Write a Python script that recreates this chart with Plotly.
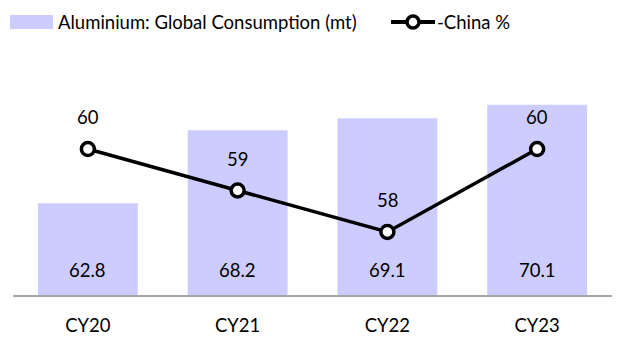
import plotly.graph_objects as go

# Aluminium consumption (million tonnes) and China's share (%)
years = ["CY20", "CY21", "CY22", "CY23"]
consumption = [62.8, 68.2, 69.1, 70.1]
china_share = [60, 59, 58, 60]

BAR_COLOR = "#CCCCFF"
FONT = "Lato"
FS = 18.5
TXT = "#000000"

fig = go.Figure()

fig.add_trace(go.Bar(
    x=years, y=consumption, base=0,
    marker=dict(color=BAR_COLOR, line=dict(width=0)),
    name="Aluminium: Global Consumption (mt)",
    showlegend=False,
))

fig.add_trace(go.Scatter(
    x=years, y=china_share, yaxis="y2",
    mode="lines+markers",
    line=dict(color="#000000", width=3.5),
    marker=dict(symbol="circle", size=13, color="white",
                line=dict(color="#000000", width=3.5)),
    name="-China %",
    showlegend=False,
))

annotations = []
# bar values, placed near the bar foot
for x, v in zip(years, consumption):
    annotations.append(dict(
        x=x, y=56, xref="x", yref="y", text=f"{v:.1f}", showarrow=False,
        yanchor="middle", yshift=25, font=dict(family=FONT, size=FS, color=TXT)))
# share values above each marker
for x, v in zip(years, china_share):
    annotations.append(dict(
        x=x, y=v, xref="x", yref="y2", text=f"{v:.0f}", showarrow=False,
        yanchor="middle", yshift=32, font=dict(family=FONT, size=FS, color=TXT)))

# legend drawn at the top
annotations.append(dict(
    x=56, y=22, xref="paper", yref="paper", text="Aluminium: Global Consumption (mt)",
    showarrow=False, xanchor="left", yanchor="middle",
    font=dict(family=FONT, size=FS, color=TXT)))
annotations.append(dict(
    x=435, y=22, xref="paper", yref="paper", text="-China %",
    showarrow=False, xanchor="left", yanchor="middle",
    font=dict(family=FONT, size=FS, color=TXT)))

W, H = 629, 340
ML, MR, MT, MB = 13, 17, 52, 45
pw, ph = W - ML - MR, H - MT - MB


def px(xp):
    return (xp - ML) / pw


def py(yp):
    return (H - MB - yp) / ph


for a in annotations:
    if a["xref"] == "paper":
        a["x"] = px(a["x"])
        a["y"] = py(a["y"])

shapes = [
    dict(type="rect", xref="paper", yref="paper",
         x0=px(10), x1=px(53), y0=py(29), y1=py(15),
         fillcolor=BAR_COLOR, line=dict(width=0)),
    dict(type="line", xref="paper", yref="paper",
         x0=px(391), x1=px(435), y0=py(22), y1=py(22),
         line=dict(color="#000000", width=4)),
    dict(type="circle", xref="paper", yref="paper",
         x0=px(407), x1=px(419), y0=py(28), y1=py(16),
         fillcolor="white", line=dict(color="#000000", width=3.5)),
]

fig.update_layout(
    width=W, height=H,
    margin=dict(l=ML, r=MR, t=MT, b=MB, pad=0, autoexpand=False),
    paper_bgcolor="white", plot_bgcolor="white",
    bargap=1 / 3,
    font=dict(family=FONT, size=FS, color=TXT),
    xaxis=dict(
        type="category", range=[-0.5, 3.5], automargin=False,
        showline=True, linecolor="#A6A6A6", linewidth=2,
        showgrid=False, ticks="", ticklabelstandoff=13,
        tickfont=dict(family=FONT, size=FS, color=TXT),
    ),
    yaxis=dict(range=[56, 74], visible=False, showgrid=False),
    yaxis2=dict(range=[56.48, 62.34], overlaying="y", side="right",
                visible=False, showgrid=False),
    annotations=annotations,
    shapes=shapes,
    showlegend=False,
)

fig.write_html("out.html")
